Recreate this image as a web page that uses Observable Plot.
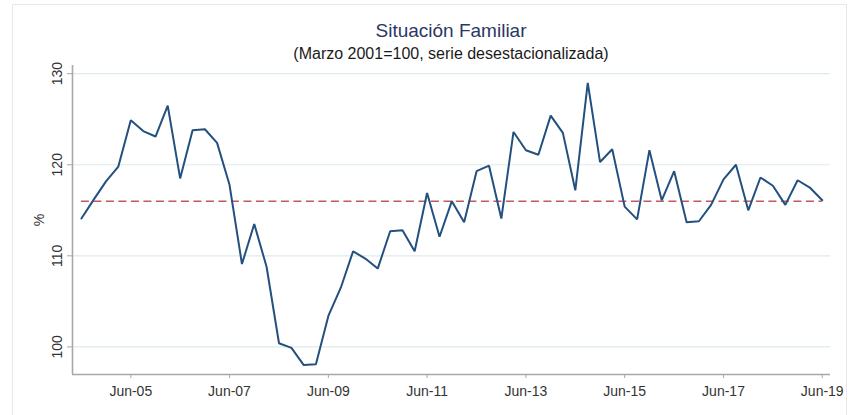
<!DOCTYPE html>
<html>
<head>
<meta charset="utf-8">
<script src="https://cdn.jsdelivr.net/npm/d3@7"></script>
<script src="https://cdn.jsdelivr.net/npm/@observablehq/plot@0.6"></script>
<style>
  body { margin: 0; background: #fff; font-family: "Liberation Sans", Arial, sans-serif; }
  #wrap { position: relative; width: 855px; height: 415px; overflow: hidden; }
  #frame { position: absolute; left: 12px; top: 4px; width: 833px; height: 430px; border: 1px solid #e8e8e8; }
  #title { position: absolute; left: 72px; width: 758px; top: 21px; text-align: center; font-size: 19px; line-height: 19px; color: #2a3765; }
  #subtitle { position: absolute; left: 72px; width: 758px; top: 46px; text-align: center; font-size: 16px; line-height: 16px; color: #1a1a1a; }
  #chart { position: absolute; left: 0; top: 60px; }
</style>
</head>
<body>
<div id="wrap">
  <div id="frame"></div>
  <div id="title">Situación Familiar</div>
  <div id="subtitle">(Marzo 2001=100, serie desestacionalizada)</div>
  <div id="chart"></div>
</div>
<script>
const periods = [
  "2004-06","2004-09","2004-12",
  "2005-03","2005-06","2005-09","2005-12",
  "2006-03","2006-06","2006-09","2006-12",
  "2007-03","2007-06","2007-09","2007-12",
  "2008-03","2008-06","2008-09","2008-12",
  "2009-03","2009-06","2009-09","2009-12",
  "2010-03","2010-06","2010-09","2010-12",
  "2011-03","2011-06","2011-09","2011-12",
  "2012-03","2012-06","2012-09","2012-12",
  "2013-03","2013-06","2013-09","2013-12",
  "2014-03","2014-06","2014-09","2014-12",
  "2015-03","2015-06","2015-09","2015-12",
  "2016-03","2016-06","2016-09","2016-12",
  "2017-03","2017-06","2017-09","2017-12",
  "2018-03","2018-06","2018-09","2018-12",
  "2019-03","2019-06"
];
const values = [
  114.1,116.2,118.2,
  119.8,124.9,123.7,123.1,
  126.5,118.5,123.8,123.9,
  122.4,117.8,109.1,113.5,
  108.8,100.4,99.9,98.0,
  98.1,103.4,106.5,110.5,
  109.7,108.6,112.7,112.8,
  110.5,116.9,112.1,116.0,
  113.7,119.3,119.9,114.1,
  123.6,121.6,121.1,125.4,
  123.5,117.2,129.0,120.3,
  121.7,115.4,114.0,121.6,
  116.1,119.3,113.7,113.8,
  115.6,118.4,120.0,115.0,
  118.6,117.7,115.6,118.3,
  117.5,116.1
];
const averageLevel = 116.0;
const yTicks = [100, 110, 120, 130];
const xTickLabels = ["Jun-05","Jun-07","Jun-09","Jun-11","Jun-13","Jun-15","Jun-17","Jun-19"];

const parsePeriod = d3.utcParse("%Y-%m");
const parseTick = d3.utcParse("%b-%y");
const data = periods.map((p, i) => ({date: parsePeriod(p), value: values[i]}));
const xTicks = xTickLabels.map(parseTick);
const first = data[0].date, last = data[data.length - 1].date;
const xDomain = [new Date(Date.UTC(2004, 2, 27)), new Date(Date.UTC(2019, 7, 1))];
const yDomain = [96.97, 130.9];

const chart = Plot.plot({
  width: 855,
  height: 355,
  marginTop: 5,
  marginBottom: 41,
  marginLeft: 72,
  marginRight: 25,
  style: { fontFamily: "'Liberation Sans', Arial, sans-serif", fontSize: "14px", color: "#333", background: "transparent" },
  x: { type: "utc", domain: xDomain },
  y: { domain: yDomain },
  marks: [
    Plot.gridY(yTicks, { stroke: "#dcebeb", strokeOpacity: 1, strokeWidth: 1.2 }),
    Plot.ruleY([{ y: averageLevel, x1: first, x2: last }], { y: "y", x1: "x1", x2: "x2", stroke: "#c05a5e", strokeWidth: 1.6, strokeDasharray: "8,4.5" }),
    Plot.line(data, { x: "date", y: "value", stroke: "#23507f", strokeWidth: 2, strokeLinejoin: "miter" }),
    Plot.ruleX([xDomain[0]], { stroke: "#a8a8a8", strokeWidth: 1.6 }),
    Plot.ruleY([yDomain[0]], { stroke: "#a8a8a8", strokeWidth: 1.6 }),
    Plot.axisX(xTicks, { tickFormat: d3.utcFormat("%b-%y"), tickSize: 4, tickPadding: 8, stroke: "#a8a8a8", label: null }),
    Plot.axisY(yTicks, { tickSize: 5, tickPadding: 6, tickRotate: -90, stroke: "#a8a8a8", label: "%", labelAnchor: "center", labelArrow: "none", labelOffset: 38 })
  ]
});
document.getElementById("chart").appendChild(chart);
</script>
</body>
</html>
